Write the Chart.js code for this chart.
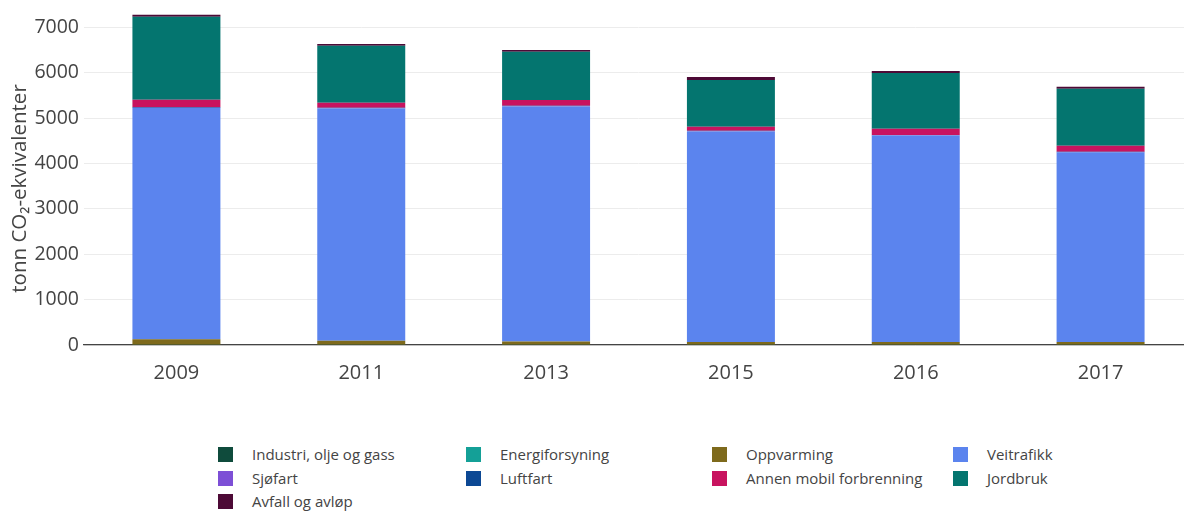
<!DOCTYPE html>
<html>
<head>
<meta charset="utf-8">
<script src="https://cdn.jsdelivr.net/npm/chart.js@4"></script>
<style>
  html, body { margin: 0; padding: 0; background: #fff; overflow: hidden; width: 1184px; height: 511px; }
  #wrap { position: absolute; left: 0; top: 0; width: 1193px; height: 400px; }
  #legend { position: absolute; left: 0; top: 444px; width: 1184px; font-family: "Open Sans", sans-serif; font-size: 15px; color: #444; }
  .item { position: absolute; height: 20px; line-height: 20px; white-space: nowrap; }
  .sw { position: absolute; left: 0; top: 3px; width: 15px; height: 15px; }
  .lb { position: absolute; left: 34px; top: 0; }
</style>
</head>
<body>
<div id="wrap"><canvas id="chart"></canvas></div>
<div id="legend"></div>
<script>
const aar = ["2009", "2011", "2013", "2015", "2016", "2017"]
const yTicks = [0, 1000, 2000, 3000, 4000, 5000, 6000, 7000]

const industri = [3, 3, 3, 3, 3, 3]
const energi = [2, 2, 2, 2, 2, 2]
const oppvarming = [120, 90, 70, 60, 60, 60]
const veitrafikk = [5097, 5115, 5180, 4640, 4550, 4180]
const sjofart = [3, 3, 3, 3, 3, 3]
const luftfart = [20, 15, 10, 10, 10, 10]
const annenMobil = [155, 110, 130, 90, 135, 130]
const jordbruk = [1830, 1255, 1060, 1030, 1230, 1255]
const avfall = [45, 40, 40, 65, 45, 45]

const navn = ["Industri, olje og gass", "Energiforsyning", "Oppvarming", "Veitrafikk", "Sjøfart", "Luftfart", "Annen mobil forbrenning", "Jordbruk", "Avfall og avløp"]
const farger = ["#0f4b3c", "#14a097", "#7e6a1c", "#5b84ee", "#7d4fd6", "#0c4894", "#c8135f", "#04756f", "#4d0a36"]
const serier = [industri, energi, oppvarming, veitrafikk, sjofart, luftfart, annenMobil, jordbruk, avfall]

// plotly-lignende legende, fire kolonner
const kolX = [218, 466, 712, 953]
const radY = [0, 24, 47]
const legend = document.getElementById("legend")
navn.forEach((n, i) => {
    const d = document.createElement("div")
    d.className = "item"
    d.style.left = kolX[i % 4] + "px"
    d.style.top = radY[Math.floor(i / 4)] + "px"
    d.innerHTML = `<span class="sw" style="background:${farger[i]}"></span><span class="lb">${n}</span>`
    legend.appendChild(d)
})

const ctx = document.getElementById("chart").getContext("2d")
new Chart(ctx, {
    type: "bar",
    data: {
        labels: aar,
        datasets: serier.map((s, i) => ({
            label: navn[i],
            data: s,
            backgroundColor: farger[i],
            borderWidth: 0,
            barPercentage: 0.476,
            categoryPercentage: 1
        }))
    },
    options: {
        responsive: true,
        maintainAspectRatio: false,
        animation: false,
        layout: { padding: 0 },
        plugins: { legend: { display: false }, tooltip: { enabled: false } },
        scales: {
            x: {
                stacked: true,
                grid: { display: false },
                border: { display: true, color: "#444", width: 1.3 },
                ticks: { color: "#444", padding: 8, font: { family: "Open Sans", size: 20 } },
                afterFit: s => { s.height = 55; s.paddingLeft = 0; s.paddingRight = 0 }
            },
            y: {
                stacked: true,
                min: 0,
                max: 7600,
                bounds: "data",
                border: { display: false },
                grid: { color: "#ececec", drawTicks: false },
                ticks: { color: "#444", padding: 5, font: { family: "Open Sans", size: 19.5 }, callback: v => String(v) },
                afterBuildTicks: s => { s.ticks = yTicks.map(v => ({ value: v })) },
                // ekstra mellomrom flytter tittelen litt ned, som i originalen
                title: { display: true, text: "tonn CO₂-ekvivalenter" + "\u00a0".repeat(6), color: "#444", padding: { top: 8, bottom: 0 }, font: { family: "Open Sans", size: 20.5 } },
                afterFit: s => { s.width = 84; s.paddingTop = 0; s.paddingBottom = 0 }
            }
        }
    }
})
</script>
</body>
</html>
